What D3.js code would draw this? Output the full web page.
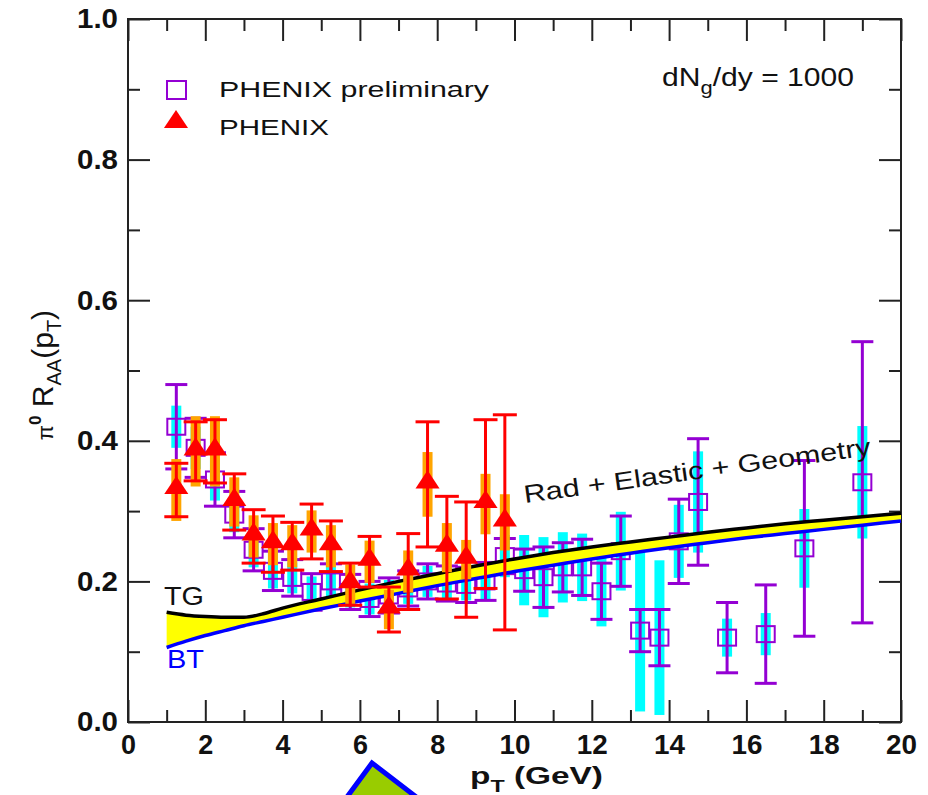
<!DOCTYPE html>
<html>
<head>
<meta charset="utf-8">
<script src="https://cdn.jsdelivr.net/npm/d3@7"></script>
<style>
	body { margin: 0; background: #fff; }
	text { font-family: "Liberation Sans", Arial, sans-serif; }
</style>
</head>
<body>
<svg id="chart" width="928" height="795"></svg>
<script>
// PHENIX preliminary (open squares, cyan boxes = systematic)
var prelimX = [1.25, 1.75, 2.25, 2.75, 3.25, 3.75, 4.25, 4.75, 5.25, 5.75, 6.25, 6.75, 7.25, 7.75, 8.25, 8.75, 9.25, 9.75,
	10.25, 10.75, 11.25, 11.75, 12.25, 12.75, 13.25, 13.75, 14.25, 14.75, 15.5, 16.5, 17.5, 19.0];
var prelimY = [0.42, 0.39, 0.345, 0.295, 0.245, 0.215, 0.205, 0.185, 0.20, 0.185, 0.175, 0.18, 0.19, 0.20, 0.197, 0.195, 0.20, 0.236,
	0.216, 0.206, 0.22, 0.22, 0.186, 0.243, 0.13, 0.12, 0.257, 0.313, 0.12, 0.125, 0.247, 0.341];
var prelimStat = [0.06, 0.042, 0.038, 0.033, 0.03, 0.028, 0.026, 0.026, 0.025, 0.025, 0.025, 0.025, 0.025, 0.025, 0.025, 0.025, 0.027, 0.025,
	0.03, 0.043, 0.035, 0.04, 0.04, 0.05, 0.03, 0.04, 0.06, 0.09, 0.05, 0.07, 0.125, 0.2];
var prelimSys = [0.03, 0.03, 0.03, 0.025, 0.025, 0.025, 0.022, 0.022, 0.022, 0.022, 0.022, 0.022, 0.022, 0.022, 0.022, 0.022, 0.025, 0.03,
	0.05, 0.057, 0.05, 0.048, 0.05, 0.056, 0.115, 0.11, 0.052, 0.072, 0.027, 0.03, 0.056, 0.08];

// PHENIX (filled triangles, orange boxes = systematic)
var phenixX = [1.25, 1.75, 2.25, 2.75, 3.25, 3.75, 4.25, 4.75, 5.25, 5.75, 6.25, 6.75, 7.25, 7.75, 8.25, 8.75, 9.25, 9.75];
var phenixY = [0.33, 0.385, 0.385, 0.313, 0.264, 0.253, 0.25, 0.271, 0.25, 0.196, 0.228, 0.16, 0.214, 0.338, 0.248, 0.231, 0.31, 0.284];
var phenixStat = [0.038, 0.042, 0.045, 0.04, 0.038, 0.04, 0.034, 0.039, 0.036, 0.03, 0.036, 0.032, 0.054, 0.089, 0.073, 0.082, 0.12, 0.153];
var phenixSys = [0.044, 0.05, 0.05, 0.035, 0.03, 0.03, 0.03, 0.03, 0.03, 0.028, 0.03, 0.028, 0.03, 0.046, 0.035, 0.028, 0.043, 0.04];

// theory curves: TG (upper, black) and BT (lower, blue)
var curveX = [1, 1.5, 2, 2.5, 3, 3.5, 4, 5, 6, 7, 8, 9, 10, 11, 12, 13, 14, 15, 16, 17, 18, 19, 20];
var tgY = [0.156, 0.152, 0.150, 0.149, 0.149, 0.154, 0.162, 0.175, 0.188, 0.200, 0.211, 0.222, 0.232, 0.241, 0.249, 0.256, 0.263, 0.270, 0.276, 0.282, 0.287, 0.292, 0.297];
var btY = [0.106, 0.115, 0.123, 0.130, 0.137, 0.143, 0.149, 0.161, 0.172, 0.183, 0.194, 0.204, 0.214, 0.223, 0.232, 0.240, 0.248, 0.255, 0.262, 0.268, 0.274, 0.280, 0.286];

var xMajor = [0, 2, 4, 6, 8, 10, 12, 14, 16, 18, 20];
var xMinor = [1, 3, 5, 7, 9, 11, 13, 15, 17, 19];
var yMajor = [0, 0.2, 0.4, 0.6, 0.8, 1.0];
var yMinor = [0.1, 0.3, 0.5, 0.7, 0.9];

var svg = d3.select("#chart"),
	x = d3.scaleLinear().domain([0, 20]).range([128, 901]),
	y = d3.scaleLinear().domain([0, 1]).range([722, 19]);

var purple = "#9400d3", cyan = "#00ffff", red = "#ff0000", orange = "#ffa500";

// axes, ticks inward on all four sides
function tidy(g) {
	g.select(".domain").remove();
	g.selectAll(".tick line").attr("stroke", "#222").attr("stroke-width", 2);
}
svg.append("g").attr("transform", "translate(0,722)")
	.call(d3.axisBottom(x).tickValues(xMajor).tickSize(-22).tickPadding(13).tickFormat(d3.format("d")))
	.call(tidy)
	.selectAll("text").attr("font-size", 27).attr("font-weight", "bold").attr("fill", "#111")
	.attr("textLength", function(d) { return d >= 10 ? 31 : 15; }).attr("lengthAdjust", "spacingAndGlyphs");
svg.append("g").attr("transform", "translate(0,722)")
	.call(d3.axisBottom(x).tickValues(xMinor).tickSize(-12).tickFormat(""))
	.call(tidy);
svg.append("g").attr("transform", "translate(0,19)")
	.call(d3.axisTop(x).tickValues(xMajor).tickSize(-22).tickFormat(""))
	.call(tidy);
svg.append("g").attr("transform", "translate(0,19)")
	.call(d3.axisTop(x).tickValues(xMinor).tickSize(-12).tickFormat(""))
	.call(tidy);
svg.append("g").attr("transform", "translate(128,0)")
	.call(d3.axisLeft(y).tickValues(yMajor).tickSize(-22).tickPadding(10).tickFormat(d3.format(".1f")))
	.call(tidy)
	.selectAll("text").attr("font-size", 28).attr("font-weight", "bold").attr("fill", "#111")
	.attr("textLength", 41).attr("lengthAdjust", "spacingAndGlyphs");
svg.append("g").attr("transform", "translate(128,0)")
	.call(d3.axisLeft(y).tickValues(yMinor).tickSize(-12).tickFormat(""))
	.call(tidy);
svg.append("g").attr("transform", "translate(901,0)")
	.call(d3.axisRight(y).tickValues(yMajor).tickSize(-22).tickFormat(""))
	.call(tidy);
svg.append("g").attr("transform", "translate(901,0)")
	.call(d3.axisRight(y).tickValues(yMinor).tickSize(-12).tickFormat(""))
	.call(tidy);

svg.append("rect")
	.attr("x", x(0)).attr("y", y(1))
	.attr("width", x(20) - x(0)).attr("height", y(0) - y(1))
	.attr("fill", "none").attr("stroke", "#222").attr("stroke-width", 2);

// error bars helper
function errorBars(g, xs, ys, es, color, cap) {
	var d = xs.map(function(v, i) { return { x: v, y: ys[i], e: es[i] }; });
	g.selectAll(null).data(d).enter().append("line")
		.attr("x1", function(d) { return x(d.x); }).attr("x2", function(d) { return x(d.x); })
		.attr("y1", function(d) { return y(d.y - d.e); }).attr("y2", function(d) { return y(d.y + d.e); })
		.attr("stroke", color).attr("stroke-width", 3);
	[-1, 1].forEach(function(s) {
		g.selectAll(null).data(d).enter().append("line")
			.attr("x1", function(d) { return x(d.x) - cap; }).attr("x2", function(d) { return x(d.x) + cap; })
			.attr("y1", function(d) { return y(d.y + s * d.e); }).attr("y2", function(d) { return y(d.y + s * d.e); })
			.attr("stroke", color).attr("stroke-width", 3);
	});
}
function sysBoxes(g, xs, ys, es, color) {
	g.selectAll(null).data(xs).enter().append("rect")
		.attr("x", function(d) { return x(d) - 5; })
		.attr("width", 10)
		.attr("y", function(d, i) { return y(ys[i] + es[i]); })
		.attr("height", function(d, i) { return y(ys[i] - es[i]) - y(ys[i] + es[i]); })
		.attr("fill", color);
}

// preliminary
var gPre = svg.append("g");
sysBoxes(gPre, prelimX, prelimY, prelimSys, cyan);
errorBars(gPre, prelimX, prelimY, prelimStat, purple, 11);
gPre.selectAll(null).data(prelimX).enter().append("rect")
	.attr("x", function(d) { return x(d) - 9; })
	.attr("y", function(d, i) { return y(prelimY[i]) - 8; })
	.attr("width", 18).attr("height", 16)
	.attr("fill", "none").attr("stroke", purple).attr("stroke-width", 2);

// theory band and curves
var curve = curveX.map(function(v, i) { return { x: v, tg: tgY[i], bt: btY[i] }; });
svg.append("path").datum(curve)
	.attr("d", d3.area().x(function(d) { return x(d.x); })
		.y0(function(d) { return y(d.bt); }).y1(function(d) { return y(d.tg); })
		.curve(d3.curveMonotoneX))
	.attr("fill", "#ffff00");
svg.append("path").datum(curve)
	.attr("d", d3.line().x(function(d) { return x(d.x); }).y(function(d) { return y(d.tg); }).curve(d3.curveMonotoneX))
	.attr("fill", "none").attr("stroke", "#000").attr("stroke-width", 3.5);
svg.append("path").datum(curve)
	.attr("d", d3.line().x(function(d) { return x(d.x); }).y(function(d) { return y(d.bt); }).curve(d3.curveMonotoneX))
	.attr("fill", "none").attr("stroke", "#0000ff").attr("stroke-width", 3.5);

// PHENIX
var gPhx = svg.append("g");
sysBoxes(gPhx, phenixX, phenixY, phenixSys, orange);
errorBars(gPhx, phenixX, phenixY, phenixStat, red, 12);
var tri = d3.symbol().type(d3.symbolTriangle).size(190);
gPhx.selectAll(null).data(phenixX).enter().append("path")
	.attr("d", tri)
	.attr("transform", function(d, i) { return "translate(" + x(d) + "," + (y(phenixY[i]) - 2) + ") scale(1.15,1)"; })
	.attr("fill", red);

// legend
svg.append("rect").attr("x", 167).attr("y", 81).attr("width", 19).attr("height", 18)
	.attr("fill", "none").attr("stroke", purple).attr("stroke-width", 2);
svg.append("path").attr("d", tri)
	.attr("transform", "translate(176,122) scale(1.15,1)").attr("fill", red);
svg.append("text").attr("x", 219).attr("y", 97).attr("font-size", 22)
	.attr("textLength", 270).attr("lengthAdjust", "spacingAndGlyphs").attr("fill", "#111")
	.text("PHENIX preliminary");
svg.append("text").attr("x", 219).attr("y", 135).attr("font-size", 22)
	.attr("textLength", 110).attr("lengthAdjust", "spacingAndGlyphs").attr("fill", "#111")
	.text("PHENIX");

// annotation
var dn = svg.append("text").attr("x", 662).attr("y", 86).attr("font-size", 26).attr("fill", "#111")
	.attr("textLength", 192).attr("lengthAdjust", "spacingAndGlyphs");
dn.append("tspan").text("dN");
dn.append("tspan").attr("dy", 8).attr("font-size", 19).text("g");
dn.append("tspan").attr("dy", -8).text("/dy = 1000");

svg.append("text").attr("transform", "translate(525,503) rotate(-7.9)")
	.attr("font-size", 25).attr("fill", "#111")
	.attr("textLength", 350).attr("lengthAdjust", "spacingAndGlyphs")
	.text("Rad + Elastic + Geometry");
svg.append("text").attr("x", 164).attr("y", 605).attr("font-size", 25).attr("fill", "#111")
	.attr("textLength", 40).attr("lengthAdjust", "spacingAndGlyphs").text("TG");
svg.append("text").attr("x", 167).attr("y", 668).attr("font-size", 25).attr("fill", "#0000ff")
	.attr("textLength", 37).attr("lengthAdjust", "spacingAndGlyphs").text("BT");

// axis titles
var xt = svg.append("text").attr("x", 470).attr("y", 784).attr("font-size", 23).attr("font-weight", "bold").attr("fill", "#111")
	.attr("textLength", 133).attr("lengthAdjust", "spacingAndGlyphs");
xt.append("tspan").text("p");
xt.append("tspan").attr("dy", 8).attr("font-size", 16).text("T");
xt.append("tspan").attr("dy", -8).text(" (GeV)");

var yt = svg.append("text").attr("transform", "translate(53,375) rotate(-90)")
	.attr("text-anchor", "middle").attr("font-size", 30).attr("fill", "#111");
yt.append("tspan").attr("font-size", 22).text("\u03c0");
yt.append("tspan").attr("dy", -12).attr("font-size", 17).attr("font-weight", "bold").text("0");
yt.append("tspan").attr("dy", 12).text(" R");
yt.append("tspan").attr("dy", 8).attr("font-size", 20).text("AA");
yt.append("tspan").attr("dy", -8).text("(p");
yt.append("tspan").attr("dy", 8).attr("font-size", 20).text("T");
yt.append("tspan").attr("dy", -8).text(")");

// arrow fragment at the bottom edge
svg.append("path")
	.attr("d", "M372,763 L333,816 L441,816 Z")
	.attr("fill", "#99cc00").attr("stroke", "#0000ff").attr("stroke-width", 5)
	.attr("stroke-linejoin", "miter");
</script>
</body>
</html>
